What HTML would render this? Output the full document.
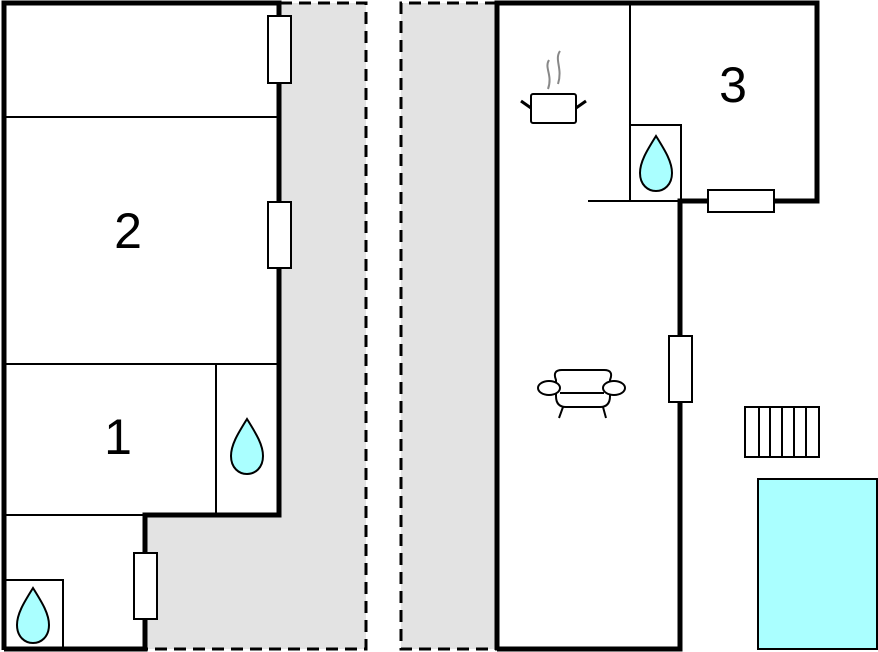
<!DOCTYPE html>
<html><head><style>html,body{margin:0;padding:0;background:#fff}svg{display:block}</style></head><body>
<svg width="878" height="652" viewBox="0 0 878 652" xmlns="http://www.w3.org/2000/svg">
<defs>
<path id="drop" d="M0,-27 C8,-14 16,-2 16,10 C16,22 8,28 0,28 C-8,28 -16,22 -16,10 C-16,-2 -8,-14 0,-27Z" fill="#aff" stroke="#000" stroke-width="2"/>
</defs>
<path d="M279,3 H366 V649 H145 V515 H279Z" fill="#e3e3e3"/>
<rect x="401" y="3" width="96" height="646" fill="#e3e3e3"/>
<g stroke="#000" stroke-width="3" stroke-dasharray="12,7" fill="none">
<path d="M280,3 H366 V649 H146"/>
<path d="M497,3 H401 V649 H497"/>
</g>
<rect x="4" y="3" width="275" height="512" fill="#fff"/>
<rect x="4" y="515" width="141" height="134" fill="#fff"/>
<g stroke="#000" stroke-width="2" fill="none">
<path d="M4,117 H279 M4,364 H279 M216,364 V515 M4,515 H145"/>
<rect x="4" y="580" width="59" height="69"/>
</g>
<path d="M4,650 V3 H279 V515 H145 V649 H4" stroke="#000" stroke-width="5" fill="none"/>
<g fill="#fff" stroke="#000" stroke-width="2">
<rect x="268" y="16" width="23" height="67"/>
<rect x="268" y="202" width="23" height="66"/>
<rect x="134" y="553" width="23" height="66"/>
</g>
<use href="#drop" x="247" y="446"/>
<use href="#drop" x="33" y="615"/>
<g font-family="Liberation Sans, sans-serif" font-size="50" text-anchor="middle">
<text x="128" y="248">2</text>
<text x="118" y="454">1</text>
<text x="733" y="102">3</text>
</g>
<g stroke="#000" stroke-width="2" fill="none">
<path d="M630,3 V201 M588,201 H680"/>
<rect x="630" y="125" width="51" height="76"/>
</g>
<path d="M497,650 V3 H817 V201 H680 V649 H497" stroke="#000" stroke-width="5" fill="none"/>
<g fill="#fff" stroke="#000" stroke-width="2">
<rect x="708" y="190" width="66" height="22"/>
<rect x="669" y="336" width="23" height="66"/>
</g>
<use href="#drop" x="656" y="163"/>
<g stroke="#888" stroke-width="2" fill="none">
<path d="M549,60 C544,68 553,75 548,89 M560,51 C554,60 563,68 558,84"/>
</g>
<rect x="531" y="94" width="45" height="29" rx="2" fill="#fff" stroke="#000" stroke-width="2"/>
<path d="M521,101 L531,108 M586,101 L576,108" stroke="#000" stroke-width="3"/>
<g stroke="#000" stroke-width="2" fill="#fff">
<path d="M556,380 Q552,370 562,370 H604 Q614,370 610,380 V396 Q610,407 600,407 H566 Q556,407 556,396Z"/>
<ellipse cx="549" cy="388" rx="11" ry="7"/>
<ellipse cx="614" cy="388" rx="11" ry="7"/>
<path d="M560,393 H604 M563,407 L559,418 M603,407 L606,418" fill="none"/>
</g>
<g stroke="#000" stroke-width="2" fill="#fff">
<rect x="745" y="407" width="74" height="50"/>
<path d="M759,407V457 M770,407V457 M782,407V457 M794,407V457 M806,407V457" fill="none"/>
</g>
<rect x="758" y="479" width="119" height="170" fill="#aff" stroke="#000" stroke-width="2"/>
</svg>
</body></html>
